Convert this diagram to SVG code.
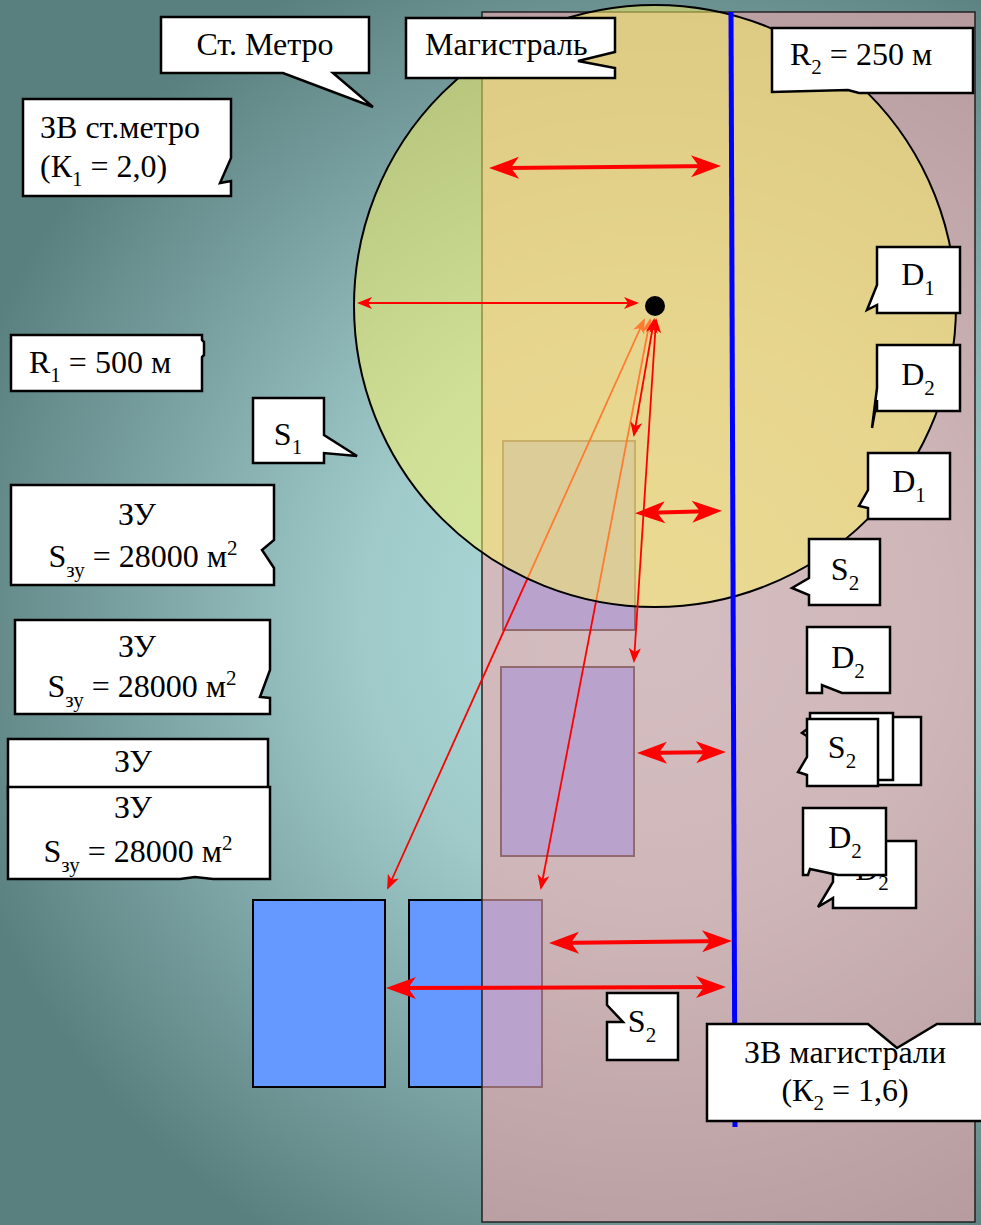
<svg xmlns="http://www.w3.org/2000/svg" width="981" height="1225" viewBox="0 0 981 1225">
<defs>
<radialGradient id="bg" gradientUnits="userSpaceOnUse" cx="650" cy="620" r="720">
<stop offset="0" stop-color="#b0e0e0"/>
<stop offset="0.4" stop-color="#a0caca"/>
<stop offset="1" stop-color="#5a7f7f"/>
</radialGradient>
<marker id="big" viewBox="-25 -12 32 24" markerWidth="32" markerHeight="24" refX="0" refY="0" orient="auto-start-reverse" markerUnits="userSpaceOnUse">
<path d="M6,0 L-24,-11 L-16,0 L-24,11 Z" fill="#ff0000"/>
</marker>
<marker id="sm" viewBox="-14 -7 17 14" markerWidth="17" markerHeight="14" refX="0" refY="0" orient="auto-start-reverse" markerUnits="userSpaceOnUse">
<path d="M2,0 L-13,-6 L-9,0 L-13,6 Z" fill="#ff0000"/>
</marker>
</defs>
<style>
.co{fill:#ffffff;stroke:#000000;stroke-width:2.5;stroke-linejoin:miter}
.t{font-family:"Liberation Serif","Times New Roman",serif;font-size:32px;fill:#000000}
.m{text-anchor:middle}
.s{font-size:21px}
.blk{fill:#6699ff;stroke:#000000;stroke-width:2}
.thick{stroke:#ff0000;stroke-width:4;fill:none;marker-start:url(#big);marker-end:url(#big)}
.thin{stroke:#ff0000;stroke-width:1.8;fill:none;marker-start:url(#sm);marker-end:url(#sm)}
</style>

<rect x="0" y="0" width="981" height="1225" fill="url(#bg)"/>

<g id="plots">
<rect id="plot1" class="blk" x="253" y="900" width="132" height="187"/>
<rect id="plot2" class="blk" x="409" y="900" width="133" height="187"/>
<rect id="plot3" class="blk" x="501" y="667" width="133" height="189"/>
<rect id="plot4" class="blk" x="503" y="441" width="132" height="189"/>
</g>

<rect id="zone-road" x="482" y="12" width="493" height="1210" fill="rgb(235,170,175)" fill-opacity="0.62" stroke="#222222" stroke-width="1.5"/>

<g id="connectors-under">
<path class="thin" d="M644,320 L388,888"/>
<path class="thin" d="M650,320 L541,888"/>
</g>

<circle id="zone-metro" cx="655" cy="306" r="301" fill="rgb(255,245,100)" fill-opacity="0.5" stroke="#000000" stroke-width="2"/>

<path id="road" d="M731,12 L735,1127" stroke="#0000ff" stroke-width="5" fill="none"/>

<g id="connectors">
<path class="thin" d="M359,303 L637,303"/>
<path class="thin" d="M654,320 L634,435"/>
<path class="thin" d="M656,320 L634,661"/>
<path class="thick" d="M495,168 L715,166"/>
<path class="thick" d="M641,513 L716,511"/>
<path class="thick" d="M643,753 L720,752"/>
<path class="thick" d="M555,943 L726,941"/>
<path class="thick" d="M392,988 L720,987"/>
</g>

<circle id="metro-station" cx="655" cy="306" r="10" fill="#000000"/>

<g id="label-metro">
<path class="co" d="M161,17 H369 V73 H333 L373,107 L283,73 H161 Z"/>
<text class="t m" x="265" y="55">Ст. Метро</text>
</g>
<g id="label-zv-metro">
<path class="co" d="M23,99 H231 V158 L220,183 L231,181 V196 H23 Z"/>
<text class="t" x="40" y="138">ЗВ ст.метро</text>
<text class="t" x="40" y="177">(К<tspan class="s" dy="9">1</tspan><tspan dy="-9"> = 2,0)</tspan></text>
</g>
<g id="label-road">
<path class="co" d="M406,18 H615 V52 L578,61 L615,68 V78 H406 Z"/>
<text class="t" x="425" y="55">Магистраль</text>
</g>
<g id="label-r2">
<path class="co" d="M772,28 H973 V93 H859 L848,90 L772,92 Z"/>
<text class="t" x="790" y="65">R<tspan class="s" dy="9">2</tspan><tspan dy="-9"> = 250 м</tspan></text>
</g>
<g id="label-r1">
<path class="co" d="M11,335 H202 V340 L204,342 V355 L202,357 V391 H11 Z"/>
<text class="t" x="29" y="373">R<tspan class="s" dy="9">1</tspan><tspan dy="-9"> = 500 м</tspan></text>
</g>
<g id="label-s1">
<path class="co" d="M253,398 H324 V435 L357,456 L324,453 V463 H253 Z"/>
<text class="t m" x="288" y="445">S<tspan class="s" dy="9">1</tspan></text>
</g>
<g id="label-zu1">
<path class="co" d="M11,485 H274 V540 L262,550 L274,568 V585 H11 Z"/>
<text class="t m" x="137" y="525">ЗУ</text>
<text class="t m" x="143" y="567">S<tspan class="s" dy="10">зу</tspan><tspan dy="-10"> = 28000 м</tspan><tspan class="s" dy="-12">2</tspan></text>
</g>
<g id="label-zu2">
<path class="co" d="M15,620 H270 V670 L260,697 L270,698 V714 H15 Z"/>
<text class="t m" x="137" y="657">ЗУ</text>
<text class="t m" x="142" y="697">S<tspan class="s" dy="10">зу</tspan><tspan dy="-10"> = 28000 м</tspan><tspan class="s" dy="-12">2</tspan></text>
</g>
<g id="label-zu3">
<rect class="co" x="8" y="739" width="260" height="60"/>
<text class="t m" x="133" y="772">ЗУ</text>
</g>
<g id="label-zu4">
<path class="co" d="M8,787 H270 V879 H213 L195,877 L180,879 H8 Z"/>
<text class="t m" x="133" y="818">ЗУ</text>
<text class="t m" x="138" y="862">S<tspan class="s" dy="10">зу</tspan><tspan dy="-10"> = 28000 м</tspan><tspan class="s" dy="-12">2</tspan></text>
</g>
<g id="label-d1a">
<path class="co" d="M877,247 H960 V313 H877 V305 L867,310 L877,285 Z"/>
<text class="t m" x="918" y="285">D<tspan class="s" dy="10">1</tspan></text>
</g>
<g id="label-d2a">
<path class="co" d="M877,345 H960 V411 H877 V400 L872,428 L877,388 Z"/>
<text class="t m" x="918" y="385">D<tspan class="s" dy="10">2</tspan></text>
</g>
<g id="label-d1b">
<path class="co" d="M868,453 H950 V519 H868 V508 L859,506 L868,490 Z"/>
<text class="t m" x="909" y="492">D<tspan class="s" dy="10">1</tspan></text>
</g>
<g id="label-s2a">
<path class="co" d="M809,539 H880 V605 H809 V595 L792,588 L809,578 Z"/>
<text class="t m" x="845" y="580">S<tspan class="s" dy="10">2</tspan></text>
</g>
<g id="label-d2b">
<path class="co" d="M807,627 H890 V693 H842 L822,685 V693 H807 Z"/>
<text class="t m" x="848" y="668">D<tspan class="s" dy="10">2</tspan></text>
</g>
<g id="label-s2-stack">
<path class="co" d="M830,717 H921 V785 H830 Z"/>
<path class="co" d="M810,713 H893 V780 H810 V738 L802,733 L810,727 Z"/>
<path class="co" d="M807,719 H878 V786 H807 V775 L798,772 L807,757 Z"/>
<text class="t m" x="842" y="758">S<tspan class="s" dy="10">2</tspan></text>
</g>
<g id="label-d2-stack">
<path class="co" d="M833,841 H916 V908 H833 V898 L818,907 L833,882 Z"/>
<text class="t m" x="872" y="880">D<tspan class="s" dy="10">2</tspan></text>
<path class="co" d="M803,808 H886 V875 H838 L810,869 L808,875 H803 Z"/>
<text class="t m" x="845" y="848">D<tspan class="s" dy="10">2</tspan></text>
</g>
<g id="label-s2b">
<path class="co" d="M607,993 H678 V1060 H607 V1022 H623 L607,1005 Z"/>
<text class="t m" x="642" y="1032">S<tspan class="s" dy="10">2</tspan></text>
</g>
<g id="label-zv-road">
<path class="co" d="M707,1024 H868 L897,1048 L937,1024 H990 V1121 H707 Z"/>
<text class="t m" x="845" y="1063">ЗВ магистрали</text>
<text class="t m" x="845" y="1101">(К<tspan class="s" dy="9">2</tspan><tspan dy="-9"> = 1,6)</tspan></text>
</g>
</svg>
